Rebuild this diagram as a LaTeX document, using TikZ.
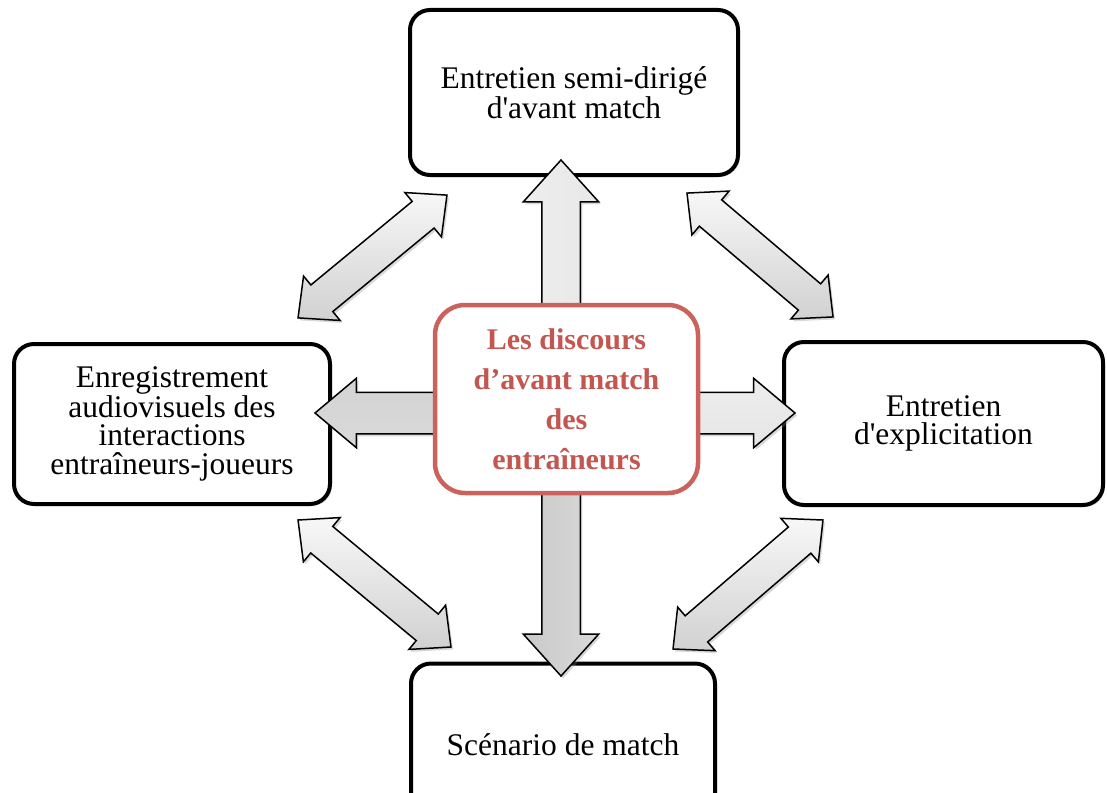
\documentclass[tikz,border=0pt]{standalone}
\usepackage{fontspec}
\setmainfont{Liberation Serif}[Ligatures=TeXOff]
\usetikzlibrary{shapes.arrows,shadows}
\definecolor{redc}{RGB}{204,98,92}
\definecolor{redt}{RGB}{196,86,80}
\begin{document}
\begin{tikzpicture}[x=1pt,y=-1pt,
  box/.style={draw=black, line width=4pt, rounded corners=20pt, fill=white,
    font=\fontsize{31.5}{28.5}\selectfont, align=center, inner sep=0pt,
    drop shadow={shadow xshift=2pt, shadow yshift=-2pt, opacity=0.25}},
  corebox/.style={draw=redc, line width=4.5pt, rounded corners=30pt, fill=white,
    text=redt, font=\fontsize{30}{40}\selectfont\bfseries, align=center, inner sep=0pt},
  arrbase/.style={draw=black, line width=1.5pt, inner xsep=0pt, outer sep=0pt,
    drop shadow={shadow xshift=2pt, shadow yshift=-2.5pt, opacity=0.3}},
  sarrV/.style={arrbase, single arrow, inner ysep=18.5pt, minimum width=74pt,
    single arrow head extend=18.5pt, single arrow tip angle=84, anchor=tip},
  sarrH/.style={arrbase, single arrow, inner ysep=20pt, minimum width=68pt,
    single arrow head extend=14pt, single arrow tip angle=80, anchor=tip},
  darr/.style={arrbase, double arrow, inner ysep=16.5pt, minimum width=56pt,
    double arrow head extend=11.5pt, double arrow tip angle=86,
    top color=gray!6, bottom color=gray!36}
]
\path[use as bounding box] (0,0) rectangle (1107,792);
\clip (0,0) rectangle (1107,792);

% outer boxes
\node[box, minimum width=328pt, minimum height=165pt] (top) at (574,92.5)
  {Entretien semi-dirigé\\d'avant match};
\node[box, minimum width=316pt, minimum height=160pt] (left) at (172,424)
  {Enregistrement\\audiovisuels des\\interactions\\entraîneurs-joueurs};
\node[box, minimum width=319pt, minimum height=163pt] (right) at (943.5,423.5)
  {Entretien\\d'explicitation};
\node[box, minimum width=304pt, minimum height=163pt] (bottom) at (563,745)
  {Scénario de match};

% diagonal double arrows
\node[darr, rotate=39.5, minimum height=193pt] (dul) at (372.5,256.5) {};
\node[darr, rotate=-40.3, minimum height=191.5pt] (dur) at (760,255) {};
\node[darr, rotate=-39.7, minimum height=198.8pt] (dll) at (374.5,583.5) {};
\node[darr, rotate=40.7, minimum height=197.8pt] (dlr) at (748,584.5) {};

% single arrows from the centre
\node[sarrV, rotate=90, minimum height=170pt, left color=gray!14, right color=gray!18] (aup) at (561,160) {};
\node[sarrV, rotate=-90, minimum height=206pt, left color=gray!42, right color=gray!30] (adown) at (561,676) {};
\node[sarrH, rotate=180, minimum height=145pt, top color=gray!34, bottom color=gray!30] (aleft) at (315,413) {};
\node[sarrH, rotate=0, minimum height=125pt, top color=gray!14, bottom color=gray!20] (aright) at (795,413) {};

% centre box
\node[corebox, minimum width=263pt, minimum height=188pt] (core) at (566.5,399)
  {Les discours\\d’avant match\\des\\entraîneurs};
\end{tikzpicture}
\end{document}
